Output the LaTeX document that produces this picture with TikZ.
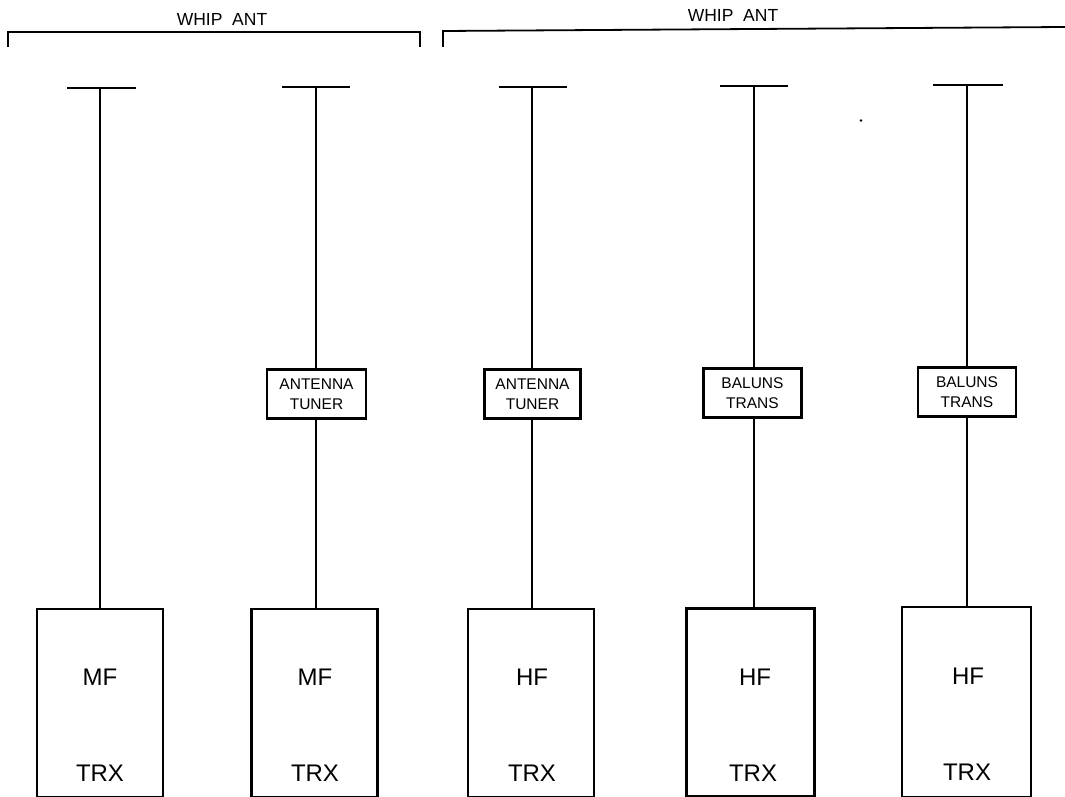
\documentclass[tikz,border=0pt]{standalone}
\usepackage{fontspec}
\setmainfont{Liberation Sans}
\usetikzlibrary{positioning}

\begin{document}
\begin{tikzpicture}[
  x=1pt, y=-1pt,
  radio/.style={
    draw, line width=2.4pt, inner sep=0pt,
    minimum height=188pt, minimum width=126pt
  },
  matcher/.style={
    draw, line width=2.6pt, fill=white, align=center, inner sep=0pt,
    minimum height=49pt, minimum width=98pt,
    font=\fontsize{15.5}{20}\selectfont
  },
  band/.style={font=\fontsize{24}{27}\selectfont},
  whip/.style={line width=1.9pt},
  tophat/.style={line width=2pt},
  bracket/.style={line width=1.8pt},
  heading/.style={font=\fontsize{17.5}{20}\selectfont}
]
\useasboundingbox (0,0) rectangle (1065,797);

% left group
\coordinate (lefta) at (8,47);
\coordinate (leftb) at (8,32);
\coordinate (leftc) at (420,32);
\coordinate (leftd) at (420,47);
\draw[bracket] (lefta) -- (leftb) -- (leftc) -- (leftd);
\node[heading] (leftlabel) at (222,19) {WHIP\ \ ANT};

% right group
\coordinate (righta) at (443,47);
\coordinate (rightb) at (443,31);
\coordinate (rightc) at (1065,27);
\draw[bracket] (righta) -- (rightb) -- (rightc);
\node[heading] (rightlabel) at (733,15) {WHIP\ \ ANT};

% transceivers
\node[radio] (trxa) at (100,703) {};
\node[radio] (trxb) at (314.5,703) {};
\node[radio] (trxc) at (531,703) {};
\node[radio, minimum width=128pt] (trxd) at (750.5,702.5) {};
\node[radio, minimum width=129pt, minimum height=190pt] (trxe) at (966.5,702) {};

\node[band] (mfa) at (100,677) {MF};
\node[band] (mfb) at (315,677) {MF};
\node[band] (hfa) at (532,677) {HF};
\node[band] (hfb) at (755,677) {HF};
\node[band] (hfc) at (968,676) {HF};
\node[band] (txa) at (100,773) {TRX};
\node[band] (txb) at (315,773) {TRX};
\node[band] (txc) at (532,773) {TRX};
\node[band] (txd) at (753,773) {TRX};
\node[band] (txe) at (967,772) {TRX};

% tuners and baluns
\node[matcher, minimum width=99pt] (tunera) at (316.5,394) {ANTENNA\\TUNER};
\node[matcher, minimum width=96pt] (tunerb) at (532.5,394) {ANTENNA\\TUNER};
\node[matcher] (baluna) at (752.5,393) {BALUNS\\TRANS};
\node[matcher] (balunb) at (967,392) {BALUNS\\TRANS};

% whips
\coordinate (topa) at (100,88);
\coordinate (topb) at (316,87);
\coordinate (topc) at (532,87);
\coordinate (topd) at (754,86);
\coordinate (tope) at (967,85);
\draw[whip] (topa) -- (topa |- trxa.north);
\draw[whip] (topb) -- (topb |- tunera.north);
\draw[whip] (topb |- tunera.south) -- (topb |- trxb.north);
\draw[whip] (topc) -- (topc |- tunerb.north);
\draw[whip] (topc |- tunerb.south) -- (topc |- trxc.north);
\draw[whip] (topd) -- (topd |- baluna.north);
\draw[whip] (topd |- baluna.south) -- (topd |- trxd.north);
\draw[whip] (tope) -- (tope |- balunb.north);
\draw[whip] (tope |- balunb.south) -- (tope |- trxe.north);

\draw[tophat] (67,88) -- (136,88);
\draw[tophat] (282,87) -- (350,87);
\draw[tophat] (499,87) -- (567,87);
\draw[tophat] (720,86) -- (788,86);
\draw[tophat] (933,85) -- (1003,85);

\fill (861,120.5) circle (1.3pt);
\end{tikzpicture}
\end{document}
